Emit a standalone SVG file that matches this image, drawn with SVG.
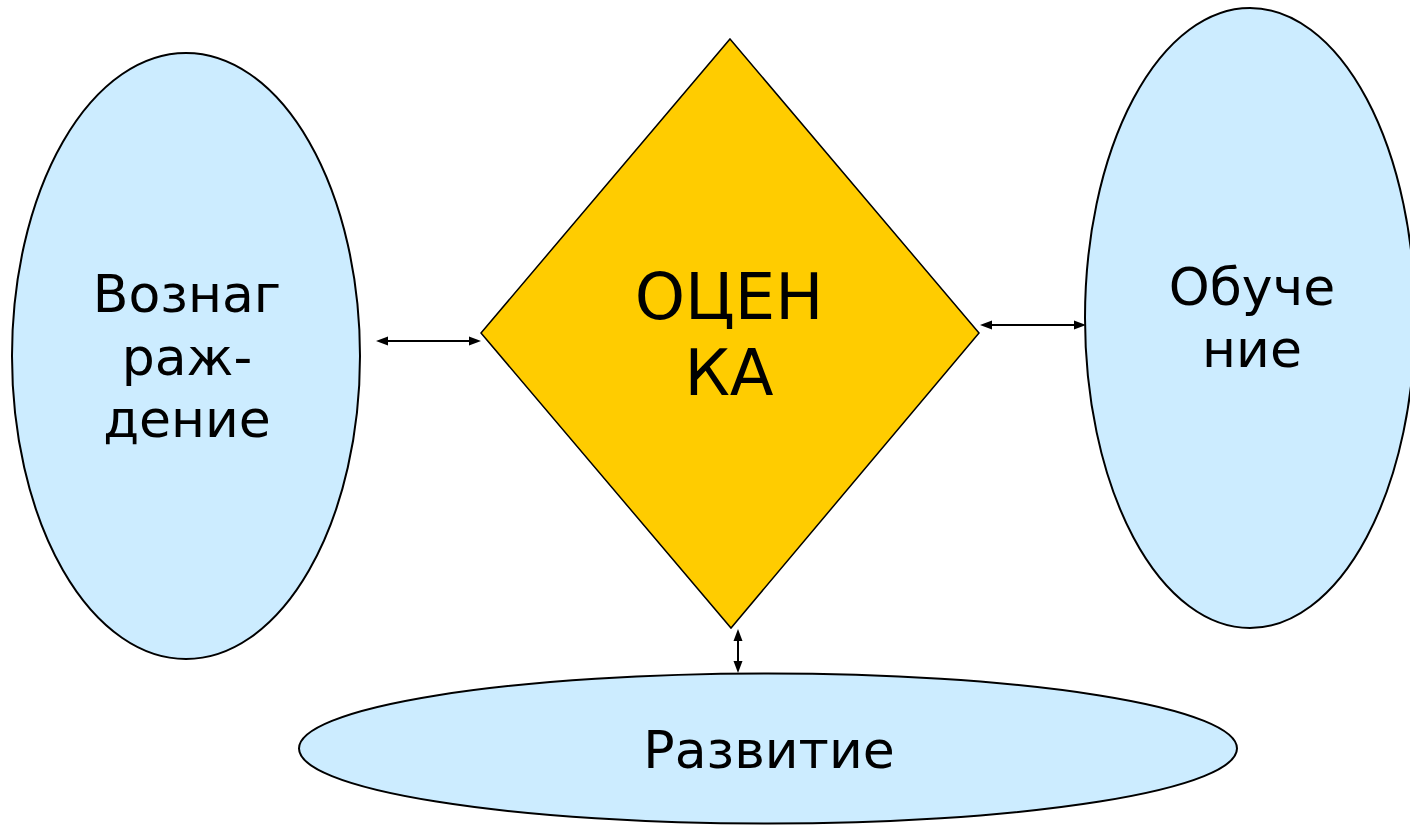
<svg xmlns="http://www.w3.org/2000/svg" width="1410" height="825" viewBox="0 0 1410 825">
<style>
.oval{fill:#CCECFF;stroke:#000;stroke-width:2}
.dia{fill:#FFCC00;stroke:#000;stroke-width:1.5}
.t{font-family:"DejaVu Sans",Verdana,sans-serif;fill:#000;text-anchor:middle}
.c{stroke:#000;stroke-width:2;fill:none}
.h{fill:#000;stroke:none}
</style>
<rect width="1410" height="825" fill="#fff"/>
<g id="node-reward">
<ellipse class="oval" cx="186" cy="356" rx="174" ry="303"/>
<text class="t" font-size="52"><tspan x="187" y="312">Вознаг</tspan><tspan x="187" y="375">раж-</tspan><tspan x="187" y="437">дение</tspan></text>
</g>
<g id="node-training">
<ellipse class="oval" cx="1250" cy="318" rx="165" ry="310"/>
<text class="t" font-size="52"><tspan x="1252" y="305">Обуче</tspan><tspan x="1252" y="367">ние</tspan></text>
</g>
<g id="node-development">
<ellipse class="oval" cx="768" cy="748.5" rx="469" ry="75"/>
<text class="t" font-size="52" x="769" y="768">Развитие</text>
</g>
<g id="node-assessment">
<polygon class="dia" points="730,39 979,333 731,628 481,333"/>
<text class="t" font-size="64"><tspan x="729" y="319">ОЦЕН</tspan><tspan x="729" y="395">КА</tspan></text>
</g>
<g id="connectors">
<line class="c" x1="385" y1="341" x2="471" y2="341"/>
<polygon class="h" points="376,341 388,336.5 388,345.5"/>
<polygon class="h" points="481,341 469,336.5 469,345.5"/>
<line class="c" x1="990" y1="325" x2="1076" y2="325"/>
<polygon class="h" points="980,325 992,320.5 992,329.5"/>
<polygon class="h" points="1086,325 1074,320.5 1074,329.5"/>
<line class="c" x1="738" y1="638" x2="738" y2="664"/>
<polygon class="h" points="738,629 733.5,641 742.5,641"/>
<polygon class="h" points="738,673 733.5,661 742.5,661"/>
</g>
</svg>
